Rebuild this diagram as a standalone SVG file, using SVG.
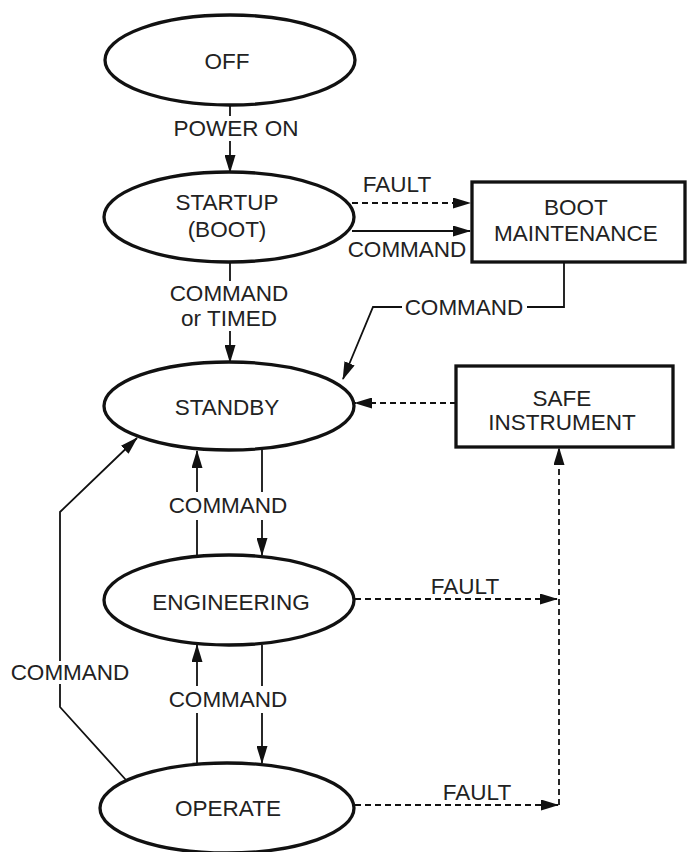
<svg xmlns="http://www.w3.org/2000/svg" width="687" height="852" viewBox="0 0 687 852">
<defs>
<marker id="ah" markerWidth="18" markerHeight="11" refX="17" refY="5.5" orient="auto" markerUnits="userSpaceOnUse">
<path d="M0,0 L18,5.5 L0,11 z" fill="#111"/>
</marker>
<style>
.node{fill:#fff;stroke:#111;stroke-width:3.3}
.t{font-family:"Liberation Sans",Arial,sans-serif;font-size:22.5px;fill:#222;text-anchor:middle}
.c{fill:none;stroke:#111;stroke-width:1.8}
.d{fill:none;stroke:#111;stroke-width:1.8;stroke-dasharray:6 4}
.a{marker-end:url(#ah)}
</style>
</defs>
<rect width="687" height="852" fill="#fff"/>
<g id="connectors">
<line class="c" x1="230" y1="105" x2="230" y2="116"/>
<line class="c a" x1="230" y1="141" x2="230" y2="172"/>
<line class="d a" x1="352" y1="203" x2="470" y2="203"/>
<line class="c a" x1="352" y1="231" x2="470" y2="231"/>
<polyline class="c" points="564,262 564,307 527,307"/>
<polyline class="c a" points="402,307 373,307 343,379"/>
<line class="c" x1="230" y1="262" x2="230" y2="281"/>
<line class="c a" x1="230" y1="331" x2="230" y2="362"/>
<line class="d a" x1="456" y1="403" x2="355" y2="403"/>
<line class="c" x1="262" y1="450" x2="262" y2="492"/>
<line class="c a" x1="262" y1="520" x2="262" y2="555"/>
<line class="c" x1="197" y1="555" x2="197" y2="520"/>
<line class="c a" x1="197" y1="492" x2="197" y2="451"/>
<line class="c" x1="262" y1="645" x2="262" y2="686"/>
<line class="c a" x1="262" y1="713" x2="262" y2="763"/>
<line class="c" x1="197" y1="763" x2="197" y2="713"/>
<line class="c a" x1="197" y1="686" x2="197" y2="645"/>
<line class="d a" x1="355" y1="599" x2="557" y2="599"/>
<line class="d a" x1="355" y1="805" x2="558" y2="805"/>
<line class="d a" x1="559" y1="805" x2="559" y2="448"/>
<polyline class="c" points="126,780 60,707 60,684"/>
<polyline class="c a" points="60,661 60,512 137,438"/>
<text class="t" x="236" y="136">POWER ON</text>
<text class="t" x="397" y="192">FAULT</text>
<text class="t" x="407" y="257">COMMAND</text>
<text class="t" x="464" y="315">COMMAND</text>
<text class="t" x="229" y="301">COMMAND</text>
<text class="t" x="229" y="326">or TIMED</text>
<text class="t" x="228" y="513">COMMAND</text>
<text class="t" x="465" y="594">FAULT</text>
<text class="t" x="70" y="680">COMMAND</text>
<text class="t" x="228" y="707">COMMAND</text>
<text class="t" x="477" y="800">FAULT</text>
</g>
<g id="off">
<ellipse class="node" cx="230" cy="60" rx="125" ry="45"/>
<text class="t" x="227" y="69">OFF</text>
</g>
<g id="startup">
<ellipse class="node" cx="229" cy="217" rx="125" ry="45"/>
<text class="t" x="227" y="210">STARTUP</text>
<text class="t" x="227" y="237">(BOOT)</text>
</g>
<g id="boot-maintenance">
<rect class="node" x="472" y="182" width="213" height="80"/>
<text class="t" x="576" y="215">BOOT</text>
<text class="t" x="576" y="241">MAINTENANCE</text>
</g>
<g id="standby">
<ellipse class="node" cx="229" cy="406" rx="125" ry="44"/>
<text class="t" x="227" y="415">STANDBY</text>
</g>
<g id="safe-instrument">
<rect class="node" x="456" y="366" width="217" height="81"/>
<text class="t" x="562" y="406">SAFE</text>
<text class="t" x="562" y="430">INSTRUMENT</text>
</g>
<g id="engineering">
<ellipse class="node" cx="229" cy="600" rx="125" ry="45"/>
<text class="t" x="231" y="610">ENGINEERING</text>
</g>
<g id="operate">
<ellipse class="node" cx="227" cy="808" rx="127" ry="45"/>
<text class="t" x="228" y="816">OPERATE</text>
</g>
</svg>
